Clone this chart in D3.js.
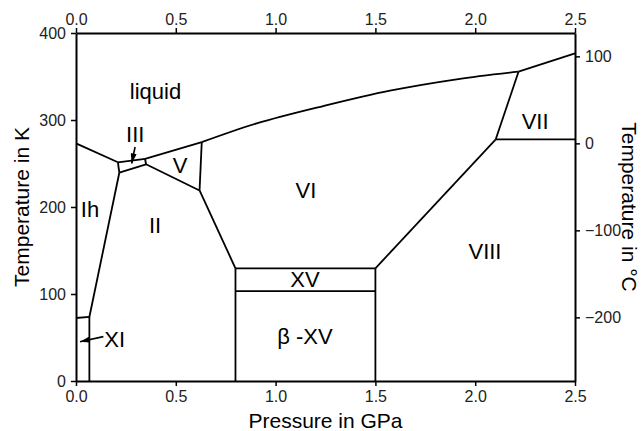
<!DOCTYPE html>
<html>
<head>
<meta charset="utf-8">
<script src="https://cdn.jsdelivr.net/npm/d3@7"></script>
<style>
  body { margin: 0; background: #fff; }
  svg text { font-family: "Liberation Sans", Arial, sans-serif; }
</style>
</head>
<body>
<svg id="chart" width="641" height="431"></svg>
<script>
// Phase diagram of water: pressure (GPa) against temperature (K / °C)

const pressureTicks = [0, 0.5, 1.0, 1.5, 2.0, 2.5];
const kelvinTicks = [0, 100, 200, 300, 400];
const celsiusTicks = [-200, -100, 0, 100];

// Phase boundaries as [pressure in GPa, temperature in K]
const meltIh   = [[0, 273.2], [0.21, 251.4]];
const meltIII  = [[0.21, 251.4], [0.346, 255.2]];
const meltV    = [[0.346, 255.2], [0.63, 274.5]];
const meltVI   = [[0.63, 274.5], [0.905, 296], [1.239, 316], [1.573, 333.7], [1.907, 346.8], [2.217, 355.5]];
const meltVII  = [[2.217, 355.5], [2.5, 376.7]];
const ihIII    = [[0.21, 251.4], [0.217, 239.4]];
const iiiV     = [[0.346, 255.2], [0.351, 249.1]];
const iiiII    = [[0.217, 239.4], [0.351, 249.1]];
const ihII     = [[0.217, 239.4], [0.067, 73.6]];
const ihXI     = [[0, 72.4], [0.067, 73.6]];
const xiII     = [[0.067, 73.6], [0.067, 0]];
const iiV      = [[0.351, 249.1], [0.619, 219]];
const vVI      = [[0.63, 274.5], [0.619, 219]];
const iiVI     = [[0.619, 219], [0.799, 129.5]];
const xvVI     = [[0.799, 129.5], [1.5, 129.5]];
const xvBeta   = [[0.799, 103.4], [1.5, 103.4]];
const xvLeft   = [[0.799, 129.5], [0.799, 0]];
const xvRight  = [[1.5, 129.5], [1.5, 0]];
const viVIII   = [[1.5, 129.5], [2.103, 277.8]];
const viiVIII  = [[2.103, 277.8], [2.5, 277.8]];
const viVII    = [[2.103, 277.8], [2.217, 355.5]];

const straightBoundaries = [meltIh, meltIII, meltV, meltVII, ihIII, iiiV, iiiII, ihII, ihXI, xiII,
  iiV, vVI, iiVI, xvVI, xvBeta, xvLeft, xvRight, viVIII, viiVIII, viVII];

// Phase names and where they sit (pressure GPa, temperature K)
const phaseNames    = ["liquid", "Ih", "II", "III", "V", "VI", "VII", "VIII", "XV", "β -XV"];
const phasePressure = [0.398, 0.07, 0.396, 0.297, 0.521, 1.152, 2.3, 2.049, 1.147, 1.147];
const phaseKelvin   = [324, 188.9, 170, 275, 239.4, 210.3, 289.3, 139.9, 108.4, 42.5];

// Ice XI is labelled beside its narrow band with an arrow
const xiLabel = { name: "XI", p: 0.142, t: 39.4 };
const xiArrow = [[0.137, 51], [0.02, 45.2]];
const iiiArrow = [[0.296, 269], [0.279, 250]];

const svg = d3.select("#chart");
const margin = { left: 76, right: 66, top: 33, bottom: 50 };
const W = 641, H = 431;

const x = d3.scaleLinear().domain([0, 2.5]).range([margin.left, W - margin.right]);
const y = d3.scaleLinear().domain([0, 400]).range([H - margin.bottom, margin.top]);
const yC = d3.scaleLinear().domain([-273.15, 126.85]).range([H - margin.bottom, margin.top]);

const fmtP = d3.format(".1f");

// Arrowhead
svg.append("defs").append("marker")
  .attr("id", "head")
  .attr("viewBox", "0 0 10 10")
  .attr("refX", 10).attr("refY", 5)
  .attr("markerUnits", "userSpaceOnUse")
  .attr("markerWidth", 10).attr("markerHeight", 6)
  .attr("orient", "auto")
  .attr("preserveAspectRatio", "none")
  .append("path").attr("d", "M0,0 L10,5 L0,10 Z").attr("fill", "#000");

const line = d3.line().x(d => x(d[0])).y(d => y(d[1]));
const curved = d3.line().x(d => x(d[0])).y(d => y(d[1])).curve(d3.curveCatmullRom);

const g = svg.append("g");
g.selectAll("path.b").data(straightBoundaries).join("path")
  .attr("class", "b")
  .attr("d", line)
  .attr("fill", "none").attr("stroke", "#000").attr("stroke-width", 1.8)
  .attr("stroke-linejoin", "round");
g.append("path").datum(meltVI)
  .attr("d", curved)
  .attr("fill", "none").attr("stroke", "#000").attr("stroke-width", 1.8);

// Axes
function styleAxis(sel) {
  sel.select(".domain").attr("stroke", "#000").attr("stroke-width", 2);
  sel.selectAll(".tick line").attr("stroke", "#000").attr("stroke-width", 1.5);
  sel.selectAll(".tick text").attr("fill", "#222").style("font-size", "16px")
    .style("font-family", "'Liberation Sans', Arial, sans-serif");
}

svg.append("g").attr("transform", `translate(0,${y(0)})`)
  .call(d3.axisBottom(x).tickValues(pressureTicks).tickFormat(fmtP).tickSize(5).tickSizeOuter(0).tickPadding(5))
  .call(styleAxis);
svg.append("g").attr("transform", `translate(0,${y(400)})`)
  .call(d3.axisTop(x).tickValues(pressureTicks).tickFormat(fmtP).tickSize(5).tickSizeOuter(0).tickPadding(3))
  .call(styleAxis);
svg.append("g").attr("transform", `translate(${x(0)},0)`)
  .call(d3.axisLeft(y).tickValues(kelvinTicks).tickSize(5).tickSizeOuter(0).tickPadding(5))
  .call(styleAxis);
svg.append("g").attr("transform", `translate(${x(2.5)},0)`)
  .call(d3.axisRight(yC).tickValues(celsiusTicks).tickSize(5).tickSizeOuter(0).tickPadding(5))
  .call(styleAxis);

// Axis titles
const midY = (y(0) + y(400)) / 2;
svg.append("text")
  .attr("x", (x(0) + x(2.5)) / 2).attr("y", 428)
  .attr("text-anchor", "middle").style("font-size", "21px").attr("fill", "#000")
  .text("Pressure in GPa");
svg.append("text")
  .attr("transform", `translate(29,${midY}) rotate(-90)`)
  .attr("text-anchor", "middle").style("font-size", "21px").attr("fill", "#000")
  .text("Temperature in K");
svg.append("text")
  .attr("transform", `translate(622,${midY}) rotate(90)`)
  .attr("text-anchor", "middle").style("font-size", "21px").attr("fill", "#000")
  .text("Temperature in °C");

// Phase labels
svg.selectAll("text.phase").data(phaseNames).join("text")
  .attr("class", "phase")
  .attr("x", (d, i) => x(phasePressure[i]))
  .attr("y", (d, i) => y(phaseKelvin[i]))
  .attr("text-anchor", "middle")
  .style("font-size", "22px").attr("fill", "#000")
  .text(d => d);

svg.append("text")
  .attr("x", x(xiLabel.p)).attr("y", y(xiLabel.t))
  .attr("text-anchor", "start").style("font-size", "22px").attr("fill", "#000")
  .text(xiLabel.name);

// Pointer arrows
[xiArrow, iiiArrow].forEach(a => {
  svg.append("path").datum(a)
    .attr("d", line)
    .attr("fill", "none").attr("stroke", "#000").attr("stroke-width", 1.6)
    .attr("marker-end", "url(#head)");
});
</script>
</body>
</html>
